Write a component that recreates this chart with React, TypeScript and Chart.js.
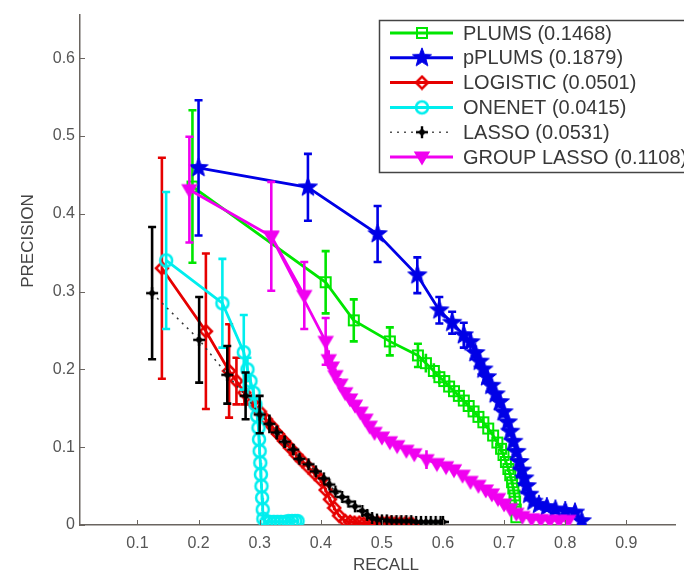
import React, { useEffect, useRef } from "react";
import { Chart, registerables } from "chart.js";

Chart.register(...registerables);

// ---------- data ----------
const xTickValues = [0.1, 0.2, 0.3, 0.4, 0.5, 0.6, 0.7, 0.8, 0.9];
const yTickValues = [0, 0.1, 0.2, 0.3, 0.4, 0.5, 0.6];

const legendLabels = [
  "PLUMS (0.1468)",
  "pPLUMS (0.1879)",
  "LOGISTIC (0.0501)",
  "ONENET (0.0415)",
  "LASSO (0.0531)",
  "GROUP LASSO (0.1108)",
];

const plumsX = [0.19, 0.408, 0.454, 0.513, 0.559, 0.572, 0.585, 0.594, 0.602, 0.61, 0.618, 0.626, 0.634, 0.642, 0.65, 0.658, 0.666, 0.674, 0.682, 0.689, 0.695, 0.699, 0.703, 0.707, 0.71, 0.713, 0.715, 0.717, 0.718, 0.719, 0.72];
const plumsY = [0.435, 0.312, 0.263, 0.236, 0.218, 0.208, 0.198, 0.19, 0.185, 0.178, 0.172, 0.166, 0.16, 0.153, 0.146, 0.139, 0.132, 0.124, 0.115, 0.106, 0.098, 0.09, 0.081, 0.072, 0.064, 0.055, 0.047, 0.038, 0.03, 0.02, 0.01];
const plumsErr = [0.098, 0.04, 0.027, 0.018, 0.015, 0.012, 0.01, 0.009, 0.008, 0.008, 0.008, 0.007, 0.007, 0.006, 0.006, 0.006, 0.006, 0.005, 0.005, 0.005, 0.005, 0.004, 0.004, 0.004, 0.004, 0.003, 0.003, 0.003, 0.003, 0.002, 0.002];

const pplumsX = [0.2, 0.379, 0.493, 0.558, 0.594, 0.615, 0.634, 0.645, 0.653, 0.66, 0.666, 0.672, 0.679, 0.686, 0.693, 0.699, 0.706, 0.71, 0.715, 0.72, 0.725, 0.729, 0.733, 0.737, 0.741, 0.748, 0.757, 0.77, 0.784, 0.8, 0.816, 0.827];
const pplumsY = [0.459, 0.434, 0.374, 0.321, 0.276, 0.26, 0.244, 0.235, 0.221, 0.21, 0.2, 0.19, 0.179, 0.168, 0.158, 0.145, 0.132, 0.12, 0.107, 0.094, 0.081, 0.07, 0.06, 0.05, 0.039, 0.03, 0.026, 0.023, 0.02, 0.018, 0.016, 0.005];
const pplumsErr = [0.087, 0.043, 0.036, 0.023, 0.017, 0.014, 0.016, 0.012, 0.01, 0.009, 0.009, 0.008, 0.008, 0.008, 0.008, 0.007, 0.007, 0.006, 0.006, 0.005, 0.005, 0.005, 0.005, 0.004, 0.004, 0.003, 0.003, 0.003, 0.003, 0.002, 0.002, 0.002];

const logisticX = [0.14, 0.212, 0.25, 0.262, 0.275, 0.288, 0.3, 0.31, 0.32, 0.33, 0.34, 0.35, 0.36, 0.37, 0.38, 0.39, 0.4, 0.408, 0.415, 0.422, 0.43, 0.44, 0.448, 0.455, 0.463, 0.47, 0.478, 0.485, 0.493, 0.5, 0.508, 0.515, 0.522, 0.53, 0.538, 0.545, 0.55];
const logisticY = [0.33, 0.249, 0.198, 0.185, 0.17, 0.158, 0.146, 0.136, 0.127, 0.117, 0.108, 0.099, 0.09, 0.082, 0.074, 0.066, 0.058, 0.045, 0.033, 0.022, 0.012, 0.005, 0.004, 0.003, 0.003, 0.002, 0.002, 0.002, 0.003, 0.003, 0.003, 0.003, 0.002, 0.002, 0.002, 0.001, 0.001];
const logisticErr = [0.142, 0.1, 0.06, 0.03, 0.015, 0.01, 0.008, 0.007, 0.006, 0.005, 0.005, 0.005, 0.004, 0.004, 0.004, 0.004, 0.004, 0.003, 0.003, 0.003, 0.002, 0.002, 0.002, 0.002, 0.002, 0.002, 0.002, 0.002, 0.002, 0.002, 0.002, 0.002, 0.002, 0.002, 0.001, 0.001, 0.001];

const onenetX = [0.147, 0.239, 0.274, 0.28, 0.285, 0.29, 0.293, 0.296, 0.298, 0.299, 0.3, 0.301, 0.302, 0.303, 0.304, 0.305, 0.306, 0.311, 0.317, 0.323, 0.329, 0.335, 0.341, 0.347, 0.353, 0.358, 0.362];
const onenetY = [0.34, 0.285, 0.222, 0.2, 0.185, 0.17, 0.155, 0.14, 0.125, 0.11, 0.095, 0.08, 0.065, 0.05, 0.035, 0.02, 0.008, 0.004, 0.004, 0.004, 0.004, 0.004, 0.004, 0.005, 0.005, 0.005, 0.005];
const onenetErr = [0.088, 0.057, 0.048, 0.015, 0.01, 0.008, 0.007, 0.006, 0.005, 0.005, 0.004, 0.004, 0.004, 0.003, 0.003, 0.002, 0.002, 0.002, 0.002, 0.002, 0.002, 0.002, 0.002, 0.002, 0.002, 0.002, 0.002];

const lassoX = [0.124, 0.201, 0.247, 0.277, 0.3, 0.316, 0.328, 0.341, 0.355, 0.365, 0.38, 0.392, 0.405, 0.414, 0.424, 0.435, 0.445, 0.456, 0.468, 0.476, 0.484, 0.492, 0.5, 0.508, 0.516, 0.524, 0.532, 0.54, 0.548, 0.556, 0.564, 0.572, 0.58, 0.588, 0.596, 0.6];
const lassoY = [0.298, 0.238, 0.193, 0.166, 0.142, 0.13, 0.119, 0.107, 0.097, 0.085, 0.078, 0.069, 0.06, 0.052, 0.043, 0.036, 0.03, 0.024, 0.018, 0.013, 0.009, 0.007, 0.006, 0.006, 0.005, 0.005, 0.005, 0.005, 0.005, 0.004, 0.004, 0.004, 0.004, 0.004, 0.004, 0.004];
const lassoErr = [0.085, 0.055, 0.037, 0.03, 0.024, 0.012, 0.009, 0.008, 0.007, 0.006, 0.005, 0.005, 0.004, 0.004, 0.004, 0.003, 0.003, 0.003, 0.003, 0.003, 0.002, 0.002, 0.002, 0.002, 0.002, 0.002, 0.002, 0.002, 0.002, 0.002, 0.002, 0.002, 0.002, 0.002, 0.002, 0.002];

const groupX = [0.185, 0.319, 0.373, 0.319, 0.408, 0.413, 0.418, 0.424, 0.432, 0.44, 0.448, 0.456, 0.465, 0.473, 0.48, 0.488, 0.5, 0.513, 0.525, 0.54, 0.553, 0.573, 0.59, 0.605, 0.618, 0.632, 0.645, 0.658, 0.67, 0.68, 0.69, 0.7, 0.71, 0.72, 0.73, 0.745, 0.76, 0.775, 0.79, 0.805];
const groupY = [0.431, 0.371, 0.295, 0.371, 0.236, 0.2125, 0.203, 0.192, 0.181, 0.17, 0.162, 0.154, 0.145, 0.136, 0.127, 0.119, 0.113, 0.107, 0.102, 0.096, 0.0915, 0.084, 0.079, 0.075, 0.071, 0.064, 0.056, 0.051, 0.045, 0.04, 0.034, 0.027, 0.021, 0.015, 0.011, 0.008, 0.007, 0.006, 0.006, 0.006];
const groupErr = [0.068, 0.07, 0.043, 0, 0.03, 0.012, 0.01, 0.009, 0.008, 0.007, 0.007, 0.006, 0.006, 0.006, 0.005, 0.005, 0.005, 0.005, 0.005, 0.005, 0.005, 0.012, 0.004, 0.004, 0.004, 0.004, 0.004, 0.003, 0.003, 0.003, 0.003, 0.003, 0.002, 0.002, 0.002, 0.002, 0.002, 0.002, 0.002, 0.002];

// ---------- styles ----------
const GREEN = "#00e600";
const BLUE = "#0000e6";
const RED = "#e60000";
const CYAN = "#00eeee";
const BLACK = "#000000";
const MAGENTA = "#f000f0";
const FONT = "'Liberation Sans', Arial, sans-serif";

function mk(size: number, draw: (g: CanvasRenderingContext2D, c: number) => void) {
  const cv = document.createElement("canvas");
  cv.width = size;
  cv.height = size;
  const g = cv.getContext("2d")!;
  draw(g, size / 2);
  return cv;
}

function makeMarkers() {
  const square = mk(14, (g, c) => {
    g.strokeStyle = GREEN;
    g.lineWidth = 2;
    g.strokeRect(c - 5, c - 5, 10, 10);
  });
  const star = mk(22, (g, c) => {
    g.fillStyle = BLUE;
    g.strokeStyle = BLUE;
    g.lineWidth = 1;
    g.beginPath();
    for (let i = 0; i < 10; i++) {
      const r = i % 2 === 0 ? 10 : 4.2;
      const a = -Math.PI / 2 + (i * Math.PI) / 5;
      const px = c + r * Math.cos(a);
      const py = c + r * Math.sin(a);
      if (i === 0) g.moveTo(px, py);
      else g.lineTo(px, py);
    }
    g.closePath();
    g.fill();
    g.stroke();
  });
  const diamond = mk(16, (g, c) => {
    g.strokeStyle = RED;
    g.lineWidth = 2.5;
    g.beginPath();
    g.moveTo(c, c - 6);
    g.lineTo(c + 6, c);
    g.lineTo(c, c + 6);
    g.lineTo(c - 6, c);
    g.closePath();
    g.stroke();
  });
  const circle = mk(18, (g, c) => {
    g.strokeStyle = CYAN;
    g.lineWidth = 2.5;
    g.beginPath();
    g.arc(c, c, 6, 0, Math.PI * 2);
    g.stroke();
  });
  const plus = mk(14, (g, c) => {
    g.strokeStyle = BLACK;
    g.fillStyle = BLACK;
    g.lineWidth = 2.4;
    g.beginPath();
    g.moveTo(c - 6, c);
    g.lineTo(c + 6, c);
    g.moveTo(c, c - 6);
    g.lineTo(c, c + 6);
    g.stroke();
    g.beginPath();
    g.moveTo(c, c - 4);
    g.lineTo(c + 4, c);
    g.lineTo(c, c + 4);
    g.lineTo(c - 4, c);
    g.closePath();
    g.fill();
  });
  const tri = mk(18, (g, c) => {
    g.fillStyle = MAGENTA;
    g.strokeStyle = MAGENTA;
    g.lineWidth = 2;
    g.beginPath();
    g.moveTo(c - 6.5, c - 4.5);
    g.lineTo(c + 6.5, c - 4.5);
    g.lineTo(c, c + 6.5);
    g.closePath();
    g.fill();
    g.stroke();
  });
  return [square, star, diamond, circle, plus, tri];
}

function pts(xs: number[], ys: number[]) {
  return xs.map((x, i) => ({ x, y: ys[i] }));
}

function makeErrorBarPlugin(errList: number[][], colors: string[]) {
  return {
    id: "errorBars",
    afterDatasetDraw(chart: any, args: any) {
      const errs = errList[args.index];
      if (!errs) return;
      const ds = chart.data.datasets[args.index];
      const { ctx, chartArea } = chart;
      const xs = chart.scales.x;
      const ys = chart.scales.y;
      ctx.save();
      ctx.beginPath();
      ctx.rect(chartArea.left, chartArea.top, chartArea.right - chartArea.left, chartArea.bottom - chartArea.top);
      ctx.clip();
      ctx.strokeStyle = colors[args.index];
      ctx.lineWidth = 2.6;
      ds.data.forEach((p: any, i: number) => {
        const e = errs[i];
        if (!e) return;
        const px = xs.getPixelForValue(p.x);
        const top = ys.getPixelForValue(p.y + e);
        const bot = ys.getPixelForValue(p.y - e);
        ctx.beginPath();
        ctx.moveTo(px, top);
        ctx.lineTo(px, bot);
        if (e > 0.012) {
          ctx.moveTo(px - 4, top);
          ctx.lineTo(px + 4, top);
          ctx.moveTo(px - 4, bot);
          ctx.lineTo(px + 4, bot);
        }
        ctx.stroke();
      });
      ctx.restore();
    },
  };
}

function makeDecorPlugin(markers: HTMLCanvasElement[]) {
  return {
    id: "decor",
    afterDraw(chart: any) {
      const { ctx, chartArea } = chart;
      const xs = chart.scales.x;
      const ys = chart.scales.y;
      ctx.save();
      ctx.strokeStyle = "#6a6560";
      ctx.lineWidth = 1;
      xTickValues.forEach((v) => {
        const px = Math.round(xs.getPixelForValue(v)) + 0.5;
        ctx.beginPath();
        ctx.moveTo(px, chartArea.bottom);
        ctx.lineTo(px, chartArea.bottom - 5);
        ctx.stroke();
      });
      yTickValues.forEach((v) => {
        const py = Math.round(ys.getPixelForValue(v)) + 0.5;
        ctx.beginPath();
        ctx.moveTo(chartArea.left, py);
        ctx.lineTo(chartArea.left + 5, py);
        ctx.stroke();
      });
      ctx.fillStyle = "#444";
      ctx.font = `17px ${FONT}`;
      ctx.textAlign = "center";
      ctx.textBaseline = "middle";
      ctx.fillText("RECALL", 386, 565);
      ctx.translate(28, 241);
      ctx.rotate(-Math.PI / 2);
      ctx.fillText("PRECISION", 0, 0);
      ctx.restore();

      ctx.save();
      ctx.fillStyle = "#ffffff";
      ctx.fillRect(379, 20, 330, 153);
      ctx.strokeStyle = "#444";
      ctx.lineWidth = 1.5;
      ctx.strokeRect(379.5, 20.5, 330, 152);
      const colors = [GREEN, BLUE, RED, CYAN, "#555", MAGENTA];
      legendLabels.forEach((lab, i) => {
        const cy = 33 + i * 24.8;
        ctx.strokeStyle = colors[i];
        if (i === 4) {
          ctx.lineWidth = 1.5;
          ctx.setLineDash([2, 5]);
        } else {
          ctx.lineWidth = 3;
          ctx.setLineDash([]);
        }
        ctx.beginPath();
        ctx.moveTo(390, cy);
        ctx.lineTo(453, cy);
        ctx.stroke();
        ctx.setLineDash([]);
        const m = markers[i];
        ctx.drawImage(m, 422 - m.width / 2, cy - m.height / 2);
        ctx.fillStyle = "#383838";
        ctx.font = `20px ${FONT}`;
        ctx.textAlign = "left";
        ctx.textBaseline = "middle";
        ctx.fillText(lab, 463, cy + 1);
      });
      ctx.restore();
    },
  };
}

export default function App() {
  const ref = useRef<HTMLCanvasElement | null>(null);
  useEffect(() => {
    if (!ref.current) return;
    const markers = makeMarkers();
    const series = [
      { label: legendLabels[0], xs: plumsX, ys: plumsY, errs: plumsErr, color: GREEN },
      { label: legendLabels[1], xs: pplumsX, ys: pplumsY, errs: pplumsErr, color: BLUE },
      { label: legendLabels[2], xs: logisticX, ys: logisticY, errs: logisticErr, color: RED },
      { label: legendLabels[3], xs: onenetX, ys: onenetY, errs: onenetErr, color: CYAN },
      { label: legendLabels[4], xs: lassoX, ys: lassoY, errs: lassoErr, color: BLACK },
      { label: legendLabels[5], xs: groupX, ys: groupY, errs: groupErr, color: MAGENTA },
    ];
    const datasets = series.map((s, i) => ({
      label: s.label,
      data: pts(s.xs, s.ys),
      showLine: true,
      borderColor: i === 4 ? "#333" : s.color,
      borderWidth: i === 4 ? 1.5 : 2.8,
      borderDash: i === 4 ? [2, 5] : [],
      pointStyle: markers[i],
      pointRadius: 6,
      backgroundColor: s.color,
      order: 5 - i,
      tension: 0,
    }));
    const chart: any = new Chart(ref.current, {
      type: "scatter",
      data: { datasets: datasets as any },
      plugins: [
        makeErrorBarPlugin(series.map((s) => s.errs), series.map((s) => s.color)),
        makeDecorPlugin(markers),
      ],
      options: {
        animation: false,
        responsive: false,
        maintainAspectRatio: false,
        events: [],
        layout: { padding: { top: 8, right: 0, left: 0, bottom: 0 } },
        plugins: { legend: { display: false }, tooltip: { enabled: false } },
        scales: {
          x: {
            type: "linear",
            min: 0.006,
            max: 0.98,
            grid: { display: false, drawTicks: false },
            border: { display: true, color: "#6a6560", width: 1.5 },
            ticks: {
              color: "#555",
              font: { family: FONT, size: 16 },
              padding: 9,
              callback: (v: any) => Number(v).toFixed(1),
            },
            afterBuildTicks: (s: any) => {
              s.ticks = xTickValues.map((v) => ({ value: v }));
            },
            afterFit: (s: any) => {
              s.height = 49;
            },
          },
          y: {
            type: "linear",
            min: 0,
            max: 0.656,
            grid: { display: false, drawTicks: false },
            border: { display: true, color: "#6a6560", width: 1.5 },
            ticks: {
              color: "#555",
              font: { family: FONT, size: 16 },
              padding: 5,
              callback: (v: any) => (Number(v) === 0 ? "0" : Number(v).toFixed(1)),
            },
            afterBuildTicks: (s: any) => {
              s.ticks = yTickValues.map((v) => ({ value: v }));
            },
            afterFit: (s: any) => {
              s.width = 80;
            },
          },
        },
      } as any,
    });
    return () => chart.destroy();
  }, []);
  return (
    <div style={{ position: "fixed", left: 0, top: 0, width: 684, height: 574, background: "#fff" }}>
      <canvas ref={ref} width={684} height={574} style={{ width: 684, height: 574 }} />
    </div>
  );
}
